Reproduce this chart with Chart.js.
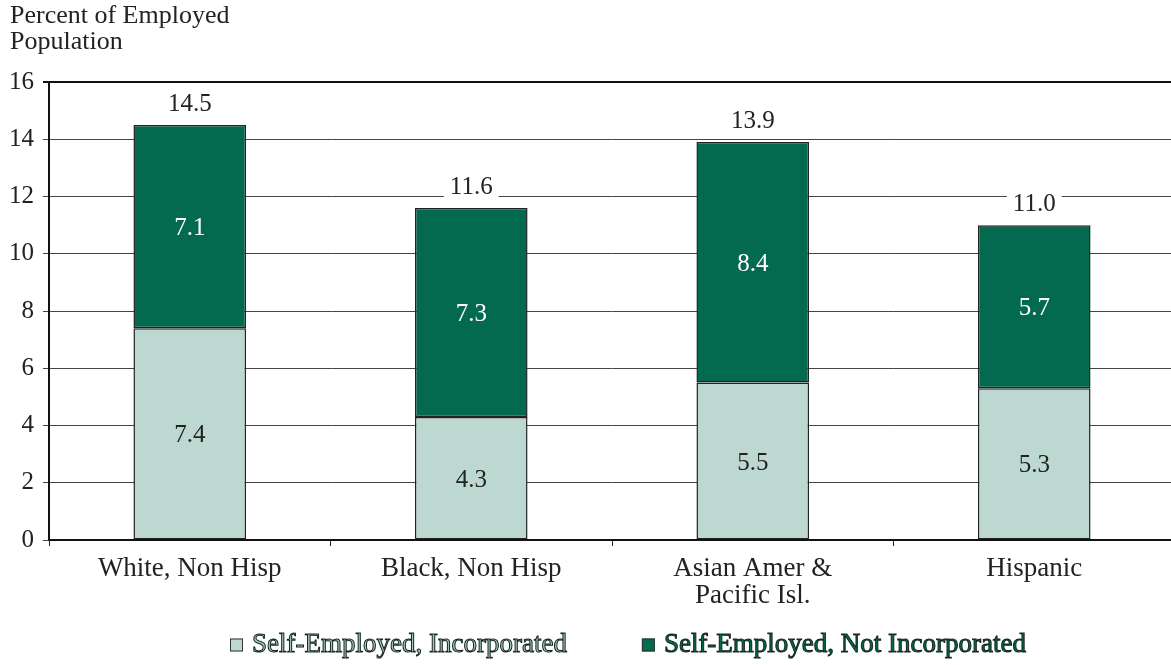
<!DOCTYPE html>
<html><head><meta charset="utf-8">
<script src="https://cdn.jsdelivr.net/npm/chart.js@4/dist/chart.umd.min.js"></script>
<style>html,body{margin:0;padding:0;background:#fff;overflow:hidden;}#wrap{width:1176px;height:665px;}</style>
</head><body><div id="wrap"><canvas id="c" width="1176" height="665"></canvas></div>
<script>
const categories = [["White, Non Hisp"], ["Black, Non Hisp"], ["Asian Amer &", "Pacific Isl."], ["Hispanic"]];
const incorporated = [7.4, 4.3, 5.5, 5.3];
const notIncorporated = [7.1, 7.3, 8.4, 5.7];
const totals = [14.5, 11.6, 13.9, 11.0];
const seriesNames = ["Self-Employed, Incorporated", "Self-Employed, Not Incorporated"];
const yTitle = ["Percent of Employed", "Population"];

const FONT = "'Liberation Serif', 'Times New Roman', serif";

const labelPlugin = {
  id: 'labels',
  afterDatasetsDraw(chart) {
    const ctx = chart.ctx;
    ctx.save();
    ctx.font = "25px " + FONT;
    ctx.textAlign = 'center';
    ctx.textBaseline = 'middle';
    chart.data.datasets.forEach((ds, di) => {
      const meta = chart.getDatasetMeta(di);
      meta.data.forEach((bar, i) => {
        const y = (bar.y + bar.base) / 2 + 2;
        ctx.fillStyle = di === 0 ? '#222' : '#fff';
        ctx.fillText(ds.data[i].toFixed(1), bar.x, y);
      });
    });
    const ys = chart.scales.y;
    chart.getDatasetMeta(1).data.forEach((bar, i) => {
      const t = totals[i].toFixed(1);
      const y = ys.getPixelForValue(totals[i]) - 21;
      const w = ctx.measureText(t).width;
      ctx.fillStyle = '#fff';
      ctx.fillRect(bar.x - w / 2 - 6, y - 12, w + 12, 24);
      ctx.fillStyle = '#222';
      ctx.fillText(t, bar.x, y);
    });
    ctx.restore();
  },
  afterDraw(chart) {
    const ctx = chart.ctx;
    ctx.save();
    ctx.font = "26px " + FONT;
    ctx.fillStyle = '#222';
    ctx.textBaseline = 'middle';
    ctx.textAlign = 'left';
    ctx.fillText(yTitle[0], 10, 16);
    ctx.fillText(yTitle[1], 10, 42);
    // legend
    const ds = chart.data.datasets;
    ctx.font = "27px " + FONT;
    const box = 13, gapText = 9, gapItem = 75;
    const widths = ds.map(d => ctx.measureText(d.label).width);
    const total = widths.reduce((a, b) => a + b, 0) + ds.length * (box + gapText) + gapItem * (ds.length - 1);
    let x = 628 - total / 2;
    const cy = 645;
    const fills = ['#9fc4b8', '#036a50'];
    ds.forEach((d, i) => {
      ctx.fillStyle = d.backgroundColor;
      ctx.fillRect(x, cy - box / 2, box, box);
      ctx.strokeStyle = '#333';
      ctx.lineWidth = 1;
      ctx.strokeRect(x + 0.5, cy - box / 2 + 0.5, box - 1, box - 1);
      x += box + gapText;
      ctx.fillStyle = fills[i];
      ctx.fillText(d.label, x, cy);
      ctx.strokeStyle = '#14241e';
      ctx.lineWidth = 1;
      ctx.strokeText(d.label, x, cy);
      x += widths[i] + gapItem;
    });
    ctx.restore();
  }
};

new Chart(document.getElementById('c'), {
  type: 'bar',
  data: {
    labels: categories,
    datasets: [
      { label: seriesNames[0], data: incorporated, backgroundColor: '#bdd8d0', borderColor: '#222', borderWidth: 1.5, borderSkipped: false, barPercentage: 0.4, categoryPercentage: 1.0 },
      { label: seriesNames[1], data: notIncorporated, backgroundColor: '#036a50', borderColor: '#222', borderWidth: 1.5, borderSkipped: false, barPercentage: 0.4, categoryPercentage: 1.0 }
    ]
  },
  options: {
    responsive: false,
    animation: false,
    layout: { padding: { top: 82, left: 0, right: 1, bottom: 0 } },
    plugins: {
      legend: { display: false },
      tooltip: { enabled: false },
      title: { display: false }
    },
    scales: {
      x: {
        stacked: true,
        grid: { offset: true, drawOnChartArea: false, drawTicks: true, tickLength: 6, color: '#222', lineWidth: 1 },
        border: { color: '#111', width: 2 },
        ticks: { color: '#222', font: { family: FONT, size: 27, lineHeight: 1.0 }, padding: 9, maxRotation: 0 },
        afterFit(s) { s.height = 125; }
      },
      y: {
        stacked: true,
        min: 0, max: 16,
        ticks: { stepSize: 2, color: '#222', font: { family: FONT, size: 25 }, padding: 9 },
        grid: {
          tickLength: 6,
          color: (c) => c.tick && c.tick.value === 16 ? '#111' : '#444',
          lineWidth: (c) => c.tick && c.tick.value === 16 ? 2 : 1
        },
        border: { color: '#111', width: 2 },
        afterFit(s) { s.width = 49; }
      }
    }
  },
  plugins: [labelPlugin]
});
</script>
</body></html>
